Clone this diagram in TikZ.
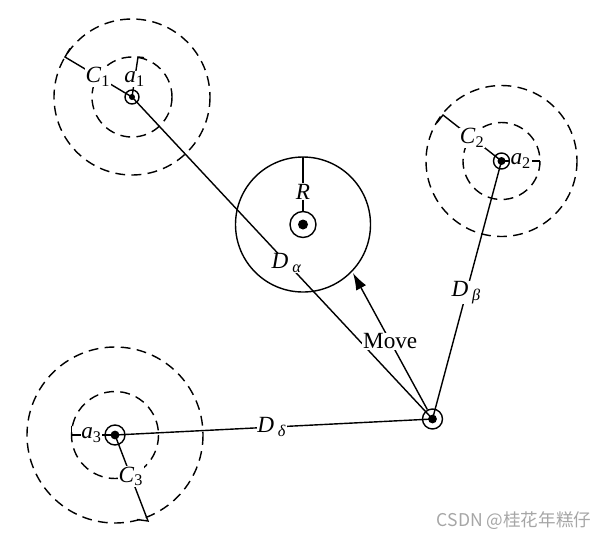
\documentclass[tikz,border=0pt]{standalone}
\usepackage{fontspec}
\setmainfont{Liberation Serif}
\newfontfamily\cjk{Noto Sans CJK SC}
\usetikzlibrary{arrows.meta}
\begin{document}
\begin{tikzpicture}[x=0.025cm,y=-0.025cm,line width=1pt,
  zone/.style={dash pattern=on 7pt off 4.5pt},
  ring/.style={circle,draw,inner sep=0pt},
  dot/.style={circle,fill=black,inner sep=0pt},
  lbl/.style={fill=white,inner sep=0.5pt,font=\fontsize{16.5}{18}\selectfont}]
\useasboundingbox (0,0) rectangle (604,542);
% cibles et robot
\node[ring,minimum size=0.35cm] (a1) at (132,97) {};
\node[ring,minimum size=0.4cm] (a2) at (501.5,161) {};
\node[ring,minimum size=0.5cm] (a3) at (115,435) {};
\node[ring,minimum size=0.65cm] (obs) at (303,224.5) {};
\node[ring,minimum size=0.5cm] (robot) at (432.5,419) {};
\node[dot,minimum size=0.15cm] (a1dot) at (a1) {};
\node[dot,minimum size=0.2cm] (a2dot) at (a2) {};
\node[dot,minimum size=0.22cm] (a3dot) at (a3) {};
\node[dot,minimum size=0.25cm] (obsdot) at (obs) {};
\node[dot,minimum size=0.22cm] (robotdot) at (robot) {};
% zones
\draw[zone] (a1) circle (40) (a1) circle (78);
\draw[zone] (a2) circle (38.5) (a2) circle (75.5);
\draw[zone] (a3) circle (43.5) (a3) circle (88);
\draw (obs) circle (67.5);
% rayons
\coordinate (c1) at (65,57);
\coordinate (r1) at (138,57);
\coordinate (c2) at (443,115);
\coordinate (r2) at (540,161);
\coordinate (c3) at (148,521);
\coordinate (r3) at (71.5,435);
\coordinate (rtop) at (303,157);
\draw (a1.center) -- node[lbl,pos=0.51] {\textit{C}\textsubscript{1}} (c1) -- +(5,-8.6);
\draw (a1.center) -- node[lbl,pos=0.45] {\textit{a}\textsubscript{1}} (r1) -- +(6,0.6);
\draw (a2.center) -- node[lbl,pos=0.5] {\textit{C}\textsubscript{2}} (c2) -- +(-6.2,7.9);
\draw (a2.center) -- node[lbl,pos=0.5] {\textit{a}\textsubscript{2}} (r2);
\draw (a3.center) -- node[lbl,pos=0.48] {\textit{C}\textsubscript{3}} (c3) -- +(-11,-1.5);
\draw (a3.center) -- node[lbl,pos=0.54] {\textit{a}\textsubscript{3}} (r3) -- +(0,-9);
\draw (rtop) -- node[lbl,pos=0.64] {\textit{R}} (obs);
% distances
\draw (a1.center) -- node[lbl,pos=0.515] {\textit{D}\,\textsubscript{\textit{α}}} (robot.center);
\draw (a2.center) -- node[lbl,pos=0.51] {\textit{D}\,\textsubscript{\textit{β}}} (robot.center);
\draw (a3.center) -- node[lbl,pos=0.494] {\textit{D}\,\textsubscript{\textit{δ}}} (robot.center);
% deplacement
\coordinate (tip) at (353,273);
\draw[-{Latex[length=12pt,width=8pt]}] (robot) -- node[lbl,pos=0.5] {Move} (tip);
\node[text=gray!70,font=\cjk\fontsize{12.5}{14}\selectfont] (mark) at (514,521) {CSDN @桂花年糕仔};
\end{tikzpicture}
\end{document}
